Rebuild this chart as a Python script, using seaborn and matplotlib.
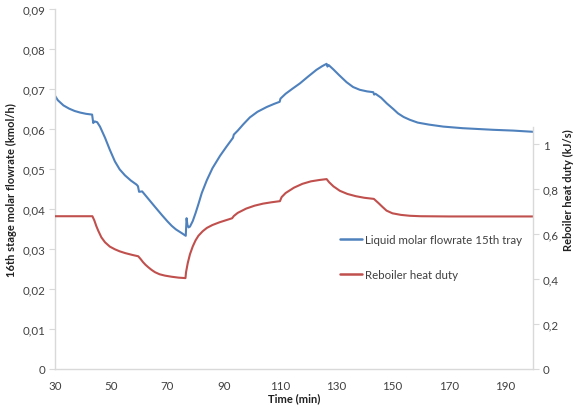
import numpy as np
import pandas as pd
import matplotlib
matplotlib.use("Agg")
import matplotlib.pyplot as plt
from matplotlib.ticker import FuncFormatter
import seaborn as sns

# ---- data ----
blue_t = [30, 31, 33, 35, 37, 39, 41, 43.2, 43.6, 44.1, 45, 46, 47.8, 49.5, 51.3, 53, 54.9, 57, 59.0, 59.5, 59.9,
          61, 63, 65.6, 68, 70, 71.5, 73, 75, 76.5, 76.8, 77.1, 77.5, 78, 79, 80, 81, 82.2, 84, 86, 88.7, 91,
          93.3, 93.6, 95, 97, 99.3, 102, 105.3, 108, 109.9, 110.2, 112, 114.5, 117.1, 120, 123, 125, 126.6,
          126.9, 127.3, 129, 131, 133.7, 136, 138.4, 141, 143.2, 143.5, 144, 146, 148, 150.3, 152, 154,
          156.2, 159, 163, 168.1, 175, 185.8, 193, 200]
blue_v = [0.0683, 0.0672, 0.0659, 0.0651, 0.0645, 0.0641, 0.0638, 0.0636, 0.0615, 0.0619, 0.0617, 0.0606,
          0.0578, 0.0548, 0.0519, 0.0499, 0.0484, 0.0471, 0.0461, 0.0457, 0.0443, 0.0444, 0.0427, 0.0405,
          0.0385, 0.0369, 0.0358, 0.0349, 0.0340, 0.0333, 0.0377, 0.0360, 0.0354, 0.0356, 0.0370, 0.0390,
          0.0412, 0.0440, 0.0472, 0.0502, 0.0533, 0.0556, 0.0578, 0.0586, 0.0596, 0.0612, 0.0629, 0.0643,
          0.0655, 0.0663, 0.0668, 0.0676, 0.0688, 0.0701, 0.0714, 0.0731, 0.0748, 0.0757, 0.0763, 0.0756,
          0.0760, 0.0749, 0.0735, 0.0717, 0.0705, 0.0698, 0.0694, 0.0692, 0.0686, 0.0688, 0.0678, 0.0664,
          0.0650, 0.0639, 0.0630, 0.0623, 0.0616, 0.0611, 0.0606, 0.0602, 0.0598, 0.0596, 0.0593]

red_t = [30, 43.3, 44.0, 44.7, 45.4, 46.5, 47.8, 49.5, 51.3, 53, 55, 57.5, 59.6, 60.5, 61.3, 62.2, 63.2,
         64.4, 65.6, 67.2, 69.1, 71.5, 74, 76.4, 76.6, 77.2, 78, 79, 80, 81, 82.5, 84, 86, 88.5, 91, 93,
         93.6, 95, 98, 101, 104, 107, 110, 110.6, 112, 115, 118, 121, 124, 126.6, 127.5, 129, 131.3, 134,
         137, 140, 143.4, 145, 146.5, 147.9, 150, 153, 156.2, 160, 170, 185, 200]
red_v = [0.679, 0.679, 0.660, 0.635, 0.614, 0.585, 0.563, 0.544, 0.532, 0.523, 0.515, 0.507, 0.501, 0.488,
         0.475, 0.463, 0.452, 0.440, 0.430, 0.421, 0.415, 0.410, 0.406, 0.404, 0.430, 0.470, 0.510, 0.545,
         0.572, 0.592, 0.612, 0.627, 0.640, 0.652, 0.662, 0.670, 0.680, 0.694, 0.713, 0.726, 0.735, 0.741,
         0.746, 0.764, 0.782, 0.806, 0.823, 0.834, 0.840, 0.844, 0.830, 0.812, 0.792, 0.778, 0.768, 0.761,
         0.756, 0.738, 0.720, 0.704, 0.692, 0.685, 0.681, 0.679, 0.678, 0.678, 0.678]

x_ticks = [30, 50, 70, 90, 110, 130, 150, 170, 190]
left_ticks = [0, 0.01, 0.02, 0.03, 0.04, 0.05, 0.06, 0.07, 0.08, 0.09]
right_ticks = [0, 0.2, 0.4, 0.6, 0.8, 1.0]

blue_label = "Liquid molar flowrate 15th tray"
red_label = "Reboiler heat duty"

df_b = pd.DataFrame({"t": blue_t, "v": blue_v})
df_r = pd.DataFrame({"t": red_t, "v": red_v})

sns.set_style("white")
plt.rcParams["font.family"] = ["Lato", "DejaVu Sans"]

BLUE = "#4F81BD"
RED = "#C0504D"
GRAY = "#D9D9D9"
TXT = "#404040"
FS = 8.3
LFS = 8

fig = plt.figure(figsize=(5.76, 4.06), dpi=100)
ax = fig.add_axes([55/576, 1-370/406, (533-55)/576, 360/406])
ax2 = ax.twinx()

sns.lineplot(data=df_b, x="t", y="v", ax=ax, color=BLUE, lw=1.5, estimator=None, sort=False, label=blue_label, legend=False)
sns.lineplot(data=df_r, x="t", y="v", ax=ax2, color=RED, lw=1.5, estimator=None, sort=False, label=red_label, legend=False)

ax.set_xlim(30, 200)
ax.set_ylim(0, 0.09)
ax2.set_ylim(0, 1.6)
ax.set_xticks(x_ticks)
ax.set_yticks(left_ticks)
ax2.set_yticks(right_ticks)

def fmt(v, pos):
    if abs(v) < 1e-12:
        return "0"
    s = f"{v:.2f}".rstrip("0").rstrip(".")
    return s.replace(".", ",")

ax.yaxis.set_major_formatter(FuncFormatter(lambda v, p: "0" if abs(v) < 1e-12 else f"{v:.2f}".replace(".", ",")))
ax2.yaxis.set_major_formatter(FuncFormatter(fmt))

for a in (ax, ax2):
    for s in a.spines.values():
        s.set_visible(False)
ax.spines["left"].set_visible(True)
ax.spines["bottom"].set_visible(True)
ax2.spines["right"].set_visible(True)
ax2.spines["right"].set_bounds(0, 1.075)
for s in (ax.spines["left"], ax.spines["bottom"], ax2.spines["right"]):
    s.set_color(GRAY)
    s.set_linewidth(1.0)

ax.tick_params(axis="both", direction="out", length=4, width=0.8, color=GRAY, labelsize=FS, labelcolor=TXT, pad=3)
ax2.tick_params(axis="y", direction="out", length=4, width=0.8, color=GRAY, labelsize=FS, labelcolor=TXT, pad=3)
ax.tick_params(axis="x", pad=4)

ax.set_xlabel("Time (min)", fontsize=LFS, fontweight="bold", color="#202020", labelpad=1)
ax.set_ylabel("16th stage molar flowrate (kmol/h)", fontsize=LFS, fontweight="bold", color="#202020", labelpad=4)
ax2.set_ylabel("Reboiler heat duty (kJ/s)", fontsize=LFS, fontweight="bold", color="#202020", labelpad=3)

h1, l1 = ax.get_legend_handles_labels()
h2, l2 = ax2.get_legend_handles_labels()
leg = fig.legend(h1 + h2, l1 + l2, loc="center left", bbox_to_anchor=(340/576, 1-258/406),
                 frameon=False, fontsize=FS, handlelength=1.9, handletextpad=0.25, labelspacing=2.1,
                 borderpad=0, borderaxespad=0)
for t in leg.get_texts():
    t.set_color(TXT)
for lh in leg.get_lines():
    lh.set_linewidth(1.8)

fig.savefig("out.png", dpi=100)
